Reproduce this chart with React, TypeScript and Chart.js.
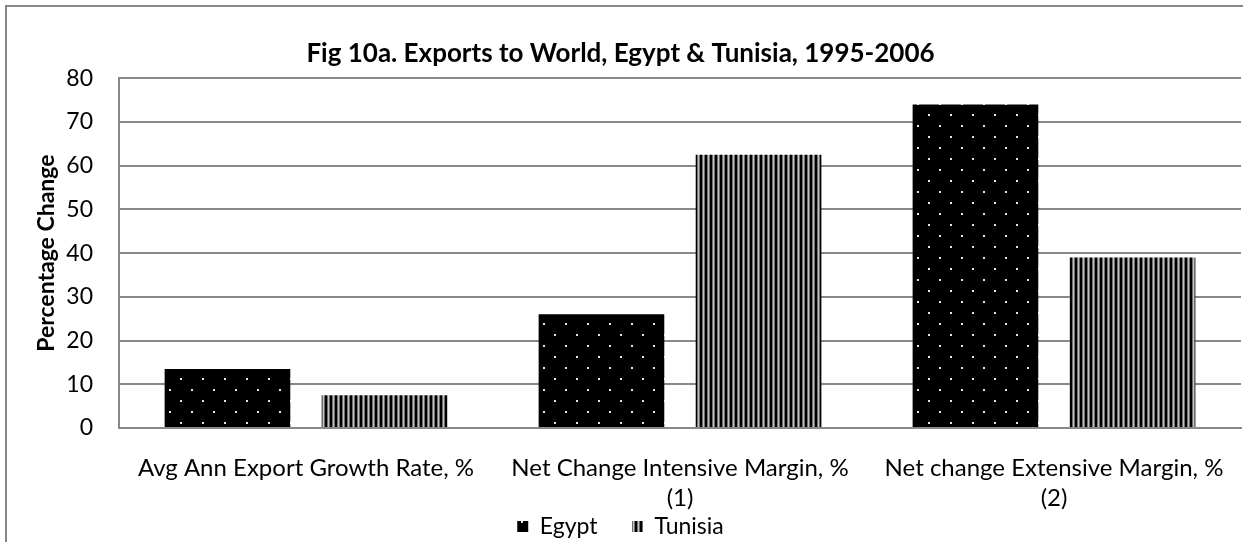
import React, { useEffect, useRef } from "react";
import { Chart, registerables } from "chart.js";

Chart.register(...registerables);

const titleText = "Fig 10a. Exports to World, Egypt & Tunisia, 1995-2006";
const yAxisTitle = "Percentage Change";
const categories: string[][] = [
  ["Avg Ann Export Growth Rate, %"],
  ["Net Change Intensive Margin, %", "(1)"],
  ["Net change Extensive Margin, %", "(2)"],
];
const seriesNames = ["Egypt", "Tunisia"];
const egyptValues = [13.5, 26, 74];
const tunisiaValues = [7.5, 62.5, 39];
const yMin = 0;
const yMax = 80;
const yStep = 10;

const FONT = "Lato, 'Open Sans', sans-serif";
const LEGEND_GAP = "\u2003\u2003";

function makeDotPattern(): CanvasPattern | string {
  const c = document.createElement("canvas");
  c.width = 22;
  c.height = 22;
  const ctx = c.getContext("2d");
  if (!ctx) return "#000";
  ctx.fillStyle = "#000";
  ctx.fillRect(0, 0, 22, 22);
  ctx.fillStyle = "#e6e6e6";
  ctx.fillRect(4, 4, 2, 2);
  ctx.fillRect(15, 15, 2, 2);
  const p = ctx.createPattern(c, "repeat");
  return p || "#000";
}

function makeStripePattern(): CanvasPattern | string {
  const c = document.createElement("canvas");
  c.width = 5;
  c.height = 5;
  const ctx = c.getContext("2d");
  if (!ctx) return "#555";
  const cols = ["#000", "#000", "#6e6e6e", "#c4c4c4", "#6e6e6e"];
  cols.forEach((col, i) => {
    ctx.fillStyle = col;
    ctx.fillRect(i, 0, 1, 5);
  });
  const p = ctx.createPattern(c, "repeat");
  return p || "#555";
}

export default function App() {
  const ref = useRef<HTMLCanvasElement | null>(null);
  useEffect(() => {
    if (!ref.current) return;
    const dots = makeDotPattern();
    const stripes = makeStripePattern();
    const chart = new Chart(ref.current, {
      type: "bar",
      data: {
        labels: categories,
        datasets: [
          {
            label: seriesNames[0],
            data: egyptValues,
            backgroundColor: dots as any,
            borderWidth: 0,
            categoryPercentage: 0.84,
            barPercentage: 0.8,
          },
          {
            label: seriesNames[1],
            data: tunisiaValues,
            backgroundColor: stripes as any,
            borderWidth: 0,
            categoryPercentage: 0.84,
            barPercentage: 0.8,
          },
        ],
      },
      options: {
        responsive: false,
        animation: false,
        layout: { padding: { left: 0, right: 2, top: 0, bottom: -6 } },
        plugins: {
          title: {
            display: true,
            text: titleText,
            color: "#000",
            font: { family: FONT, size: 26, weight: "bold", lineHeight: 1.2 },
            padding: { top: 38, bottom: 9 },
          },
          legend: {
            display: true,
            position: "bottom",
            labels: {
              color: "#000",
              boxWidth: 11,
              boxHeight: 11,
              font: { family: FONT, size: 23, lineHeight: 1 },
              padding: 0,
              generateLabels: (ch: any) => {
                const items = Chart.defaults.plugins.legend.labels.generateLabels(ch);
                return items.map((it: any, i: number) =>
                  i < items.length - 1 ? { ...it, text: it.text + LEGEND_GAP } : it
                );
              },
            },
          },
          tooltip: { enabled: false },
        },
        scales: {
          x: {
            grid: { display: false, drawTicks: false },
            border: { display: true, color: "#888", width: 2 },
            ticks: {
              color: "#000",
              font: { family: FONT, size: 24, lineHeight: 1.25 },
              padding: 25,
              maxRotation: 0,
              autoSkip: false,
            },
            afterFit: (scale: any) => {
              scale.height = 87;
              scale.paddingLeft = 0;
              scale.paddingRight = 0;
            },
          },
          y: {
            min: yMin,
            max: yMax,
            ticks: {
              stepSize: yStep,
              color: "#000",
              font: { family: FONT, size: 23 },
              padding: 26,
            },
            grid: { color: "#888", lineWidth: 2, drawTicks: false },
            border: { display: true, color: "#888", width: 2 },
            title: {
              display: true,
              text: yAxisTitle,
              color: "#000",
              font: { family: FONT, size: 23, weight: "bold", lineHeight: 1.2 },
              padding: { top: 33, bottom: 0 },
            },
            afterFit: (scale: any) => {
              scale.width = 119;
            },
          },
        },
      },
    });
    return () => chart.destroy();
  }, []);
  return (
    <div style={{ position: "absolute", left: 0, top: 0, width: 1243, height: 542, overflow: "hidden", background: "#fff" }}>
      <canvas ref={ref} width={1243} height={542} style={{ position: "absolute", left: 0, top: 0 }} />
      <div
        style={{
          position: "absolute",
          left: 5,
          top: 5,
          width: 1260,
          height: 560,
          border: "2px solid #878787",
          boxSizing: "border-box",
          pointerEvents: "none",
        }}
      />
    </div>
  );
}
